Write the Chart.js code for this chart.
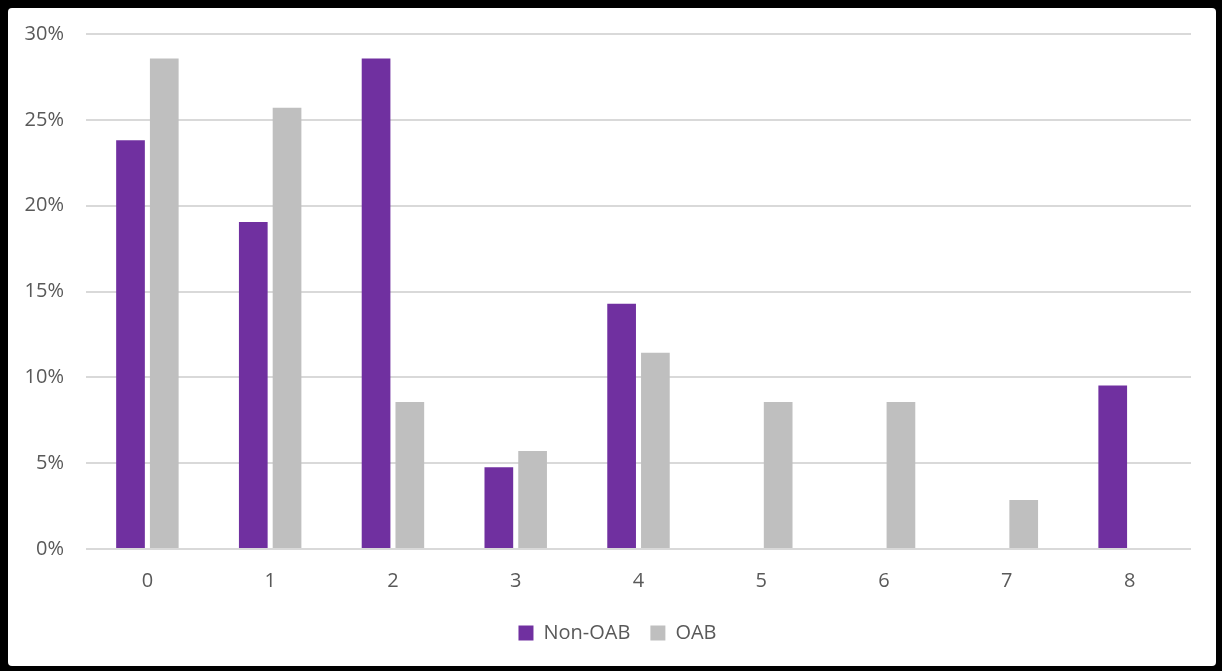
<!DOCTYPE html>
<html>
<head>
<meta charset="utf-8">
<script src="https://cdn.jsdelivr.net/npm/chart.js@4"></script>
<style>
  html, body { margin: 0; padding: 0; background: #000; }
  #frame {
    position: absolute; left: 8px; top: 8px; width: 1208px; height: 658px;
    background: #fff; border-radius: 4px; overflow: hidden;
  }
</style>
</head>
<body>
<div id="frame"><canvas id="myChart" width="1208" height="658"></canvas></div>
<script>
// number of steps / categories on the x axis
const categories = ["0", "1", "2", "3", "4", "5", "6", "7", "8"]
// share of patients, in percent
const nonOab = [23.81, 19.05, 28.57, 4.76, 14.29, 0, 0, 0, 9.52]
const oab = [28.57, 25.71, 8.57, 5.71, 11.43, 8.57, 8.57, 2.86, 0]
const yTicks = [0, 5, 10, 15, 20, 25, 30]

const textColor = "#595959"
const font = { family: "'Open Sans', sans-serif", size: 20 }

// the legend sits a bit right of the canvas centre in the original
const legendShift = {
    id: "legendShift",
    afterLayout(chart) {
        chart.legend.left += 18
        chart.legend.right += 18
    }
}

const ctx = document.getElementById("myChart")

new Chart(ctx, {
    type: "bar",
    data: {
        labels: categories,
        datasets: [{
            label: "Non-OAB",
            data: nonOab,
            backgroundColor: "#7030A0",
            categoryPercentage: 0.55,
            barPercentage: 0.85
        }, {
            label: "OAB",
            data: oab,
            backgroundColor: "#BFBFBF",
            categoryPercentage: 0.55,
            barPercentage: 0.85
        }]
    },
    options: {
        responsive: false,
        animation: false,
        layout: { padding: { left: 0, right: 25, top: 26, bottom: 13 } },
        scales: {
            x: {
                grid: { display: false },
                border: { display: false },
                ticks: { color: textColor, font: font, padding: 12 },
                afterFit: scale => { scale.height = 54 }
            },
            y: {
                min: 0,
                max: 30,
                afterBuildTicks: scale => { scale.ticks = yTicks.map(v => ({ value: v })) },
                grid: { color: "#D9D9D9", lineWidth: 2, drawTicks: false },
                border: { display: false },
                ticks: { color: textColor, font: font, padding: 22, callback: v => v + "%" },
                afterFit: scale => {
                    scale.width = 78
                    scale.paddingTop = 0
                    scale.paddingBottom = 0
                }
            }
        },
        plugins: {
            legend: {
                position: "bottom",
                labels: { color: textColor, font: font, boxWidth: 15, boxHeight: 15, padding: 20 }
            },
            tooltip: { enabled: false }
        }
    },
    plugins: [legendShift]
})
</script>
</body>
</html>
